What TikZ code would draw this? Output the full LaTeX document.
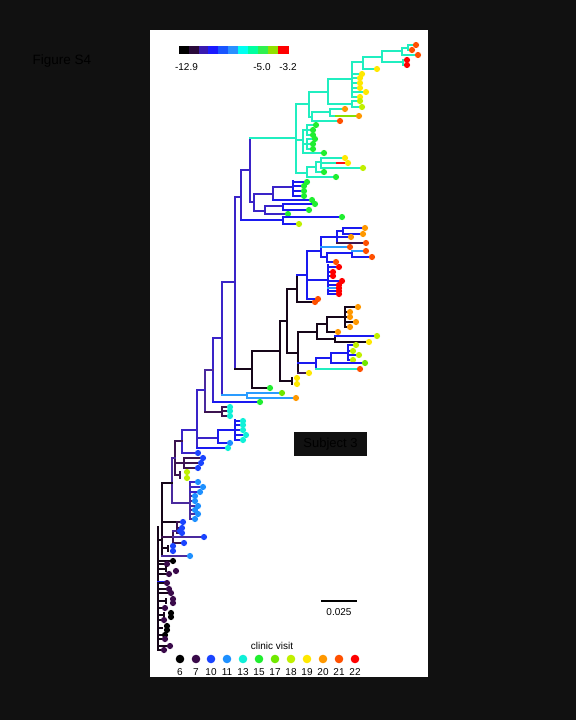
\documentclass[tikz,border=0pt]{standalone}
\usepackage{fontspec}
\setmainfont{Liberation Sans}
\definecolor{bgc}{HTML}{111111}
\definecolor{cK}{HTML}{160619}
\definecolor{cP}{HTML}{3C1450}
\definecolor{cM}{HTML}{4A2A9E}
\definecolor{cI}{HTML}{3A24C8}
\definecolor{cB}{HTML}{1A1AF0}
\definecolor{cL}{HTML}{2A9CFF}
\definecolor{cT}{HTML}{20EEC0}
\definecolor{cY}{HTML}{88E000}
\definecolor{cR}{HTML}{FF1010}
\definecolor{c6}{HTML}{000000}
\definecolor{c7}{HTML}{3A0A4A}
\definecolor{c10}{HTML}{1A44FF}
\definecolor{c11}{HTML}{1E90FF}
\definecolor{c13}{HTML}{10F0D8}
\definecolor{c15}{HTML}{20EE30}
\definecolor{c17}{HTML}{70E800}
\definecolor{c18}{HTML}{C0F000}
\definecolor{c19}{HTML}{FFE800}
\definecolor{c20}{HTML}{FF9800}
\definecolor{c21}{HTML}{FF5000}
\definecolor{c22}{HTML}{FF0000}
\newcommand{\hb}[4]{\draw[br,#1] (#2,#3) -- (#4,#3);}
\newcommand{\vb}[4]{\draw[br,#1] (#2,#3) -- (#2,#4);}
\newcommand{\dt}[3]{\fill[#1] (#2,#3) circle[radius=3.1pt];}
\newcommand{\lf}[5]{\draw[br,#1] (#3,#4) -- (#5-2,#4); \fill[#2] (#5,#4) circle[radius=3.1pt];}
\tikzset{
  br/.style={line width=2.8pt, line cap=rect},
  txt/.style={inner sep=0pt, font=\fontsize{10}{12}\selectfont},
}
\begin{document}
\begin{tikzpicture}[x=1pt,y=-1pt]
\useasboundingbox (0,0) rectangle (576,720);
\fill[bgc] (0,0) rectangle (576,720);
\fill[white] (150,30) rectangle (428,677);
\node[inner sep=0pt, text=black, font=\fontsize{13.5}{15}\selectfont] (fig) at (62,61) {Figure S4};
% colour bar
\foreach \a/\b/\c in {179/189/000000,189/199/2A0A3A,199/208/3A1AB0,208/218/1A1AFF,218/228/1A55FF,228/238/2A90FF,238/248/00FFF0,248/258/00FFA0,258/268/30F050,268/278/90E000,278/289/FF0000}{
  \definecolor{tmp}{HTML}{\c}
  \fill[tmp] (\a,46) rectangle (\b,54);
}
\node[txt] (lo) at (186.5,67) {-12.9};
\node[txt] (mid) at (262,67) {-5.0};
\node[txt] (hi) at (288,67) {-3.2};
% ================= teal clade
\vb{cI}{250}{138}{202}
\hb{cI}{241}{170}{250}
\hb{cT}{250}{138}{296}
\vb{cT}{296}{104}{173}
\hb{cT}{296}{104}{309}
\vb{cT}{309}{92}{117}
\hb{cT}{309}{92}{328}
\vb{cT}{328}{79}{104}
\hb{cT}{328}{79}{352}
\vb{cT}{352}{62}{97}
\hb{cT}{352}{62}{363}
\vb{cT}{363}{57}{69}
\hb{cT}{363}{57}{382}
\vb{cT}{382}{51}{62}
\hb{cT}{382}{51}{402}
\vb{cT}{402}{48}{55}
\hb{cT}{402}{48}{408}
\vb{cT}{408}{45}{50}
\lf{cT}{c21}{408}{45}{416}
\lf{cT}{c21}{408}{50}{412}
\lf{cT}{c21}{402}{55}{418}
\hb{cT}{382}{62}{403}
\vb{cT}{403}{60}{65}
\dt{c22}{407}{60}
\dt{c22}{407}{65}
\lf{cT}{c19}{363}{69}{377}
\lf{cT}{c19}{352}{74}{362}
\lf{cT}{c19}{352}{78}{360}
\lf{cT}{c19}{352}{83}{360}
\lf{cT}{c19}{352}{88}{360}
\lf{cT}{c19}{352}{92}{366}
\lf{cT}{c19}{352}{97}{360}
\hb{cT}{328}{104}{352}
\vb{cT}{352}{101}{107}
\lf{cT}{c18}{352}{101}{360}
\lf{cT}{c18}{352}{107}{362}
\hb{cT}{309}{117}{312}
\vb{cT}{312}{112}{121}
\hb{cT}{312}{112}{330}
\vb{cT}{330}{109}{116}
\lf{cT}{c20}{330}{109}{345}
\hb{cT}{330}{116}{336}
\lf{cY}{c20}{336}{116}{359}
\lf{cT}{c21}{312}{121}{340}
\hb{cT}{296}{140}{303}
\vb{cT}{303}{130}{153}
\hb{cT}{303}{130}{307}
\vb{cT}{307}{125}{135}
\lf{cT}{c15}{307}{125}{316}
\lf{cT}{c15}{307}{130}{313}
\lf{cT}{c15}{307}{135}{313}
\hb{cT}{303}{144}{307}
\vb{cT}{307}{139}{149}
\lf{cT}{c15}{307}{139}{315}
\lf{cT}{c15}{307}{144}{313}
\lf{cT}{c15}{307}{149}{313}
\lf{cT}{c15}{303}{153}{324}
\hb{cT}{296}{173}{307}
\vb{cT}{307}{167}{177}
\lf{cT}{c15}{307}{177}{336}
\hb{cT}{307}{167}{316}
\vb{cT}{316}{162}{172}
\lf{cT}{c15}{316}{172}{324}
\hb{cT}{316}{162}{321}
\vb{cT}{321}{158}{168}
\lf{cT}{c19}{321}{158}{345}
\hb{cT}{321}{163}{337}
\lf{cR}{c19}{337}{163}{348}
\lf{cT}{c18}{321}{168}{363}
% ================= indigo clade
\hb{cI}{250}{202}{254}
\vb{cI}{254}{194}{211}
\hb{cI}{254}{194}{273}
\vb{cI}{273}{187}{200}
\hb{cI}{273}{187}{293}
\vb{cB}{293}{181}{196}
\lf{cB}{c15}{293}{182}{307}
\lf{cB}{c15}{293}{186}{304}
\lf{cB}{c15}{293}{191}{304}
\lf{cB}{c15}{293}{196}{304}
\lf{cB}{c15}{273}{200}{312}
\hb{cI}{254}{211}{265}
\vb{cI}{265}{206}{214}
\hb{cI}{265}{206}{283}
\vb{cB}{283}{204}{210}
\lf{cB}{c15}{283}{204}{315}
\lf{cB}{c15}{283}{210}{309}
\lf{cI}{c15}{265}{214}{288}
\hb{cI}{235}{197}{241}
\vb{cI}{241}{170}{220}
\hb{cB}{241}{220}{283}
\vb{cB}{283}{217}{224}
\lf{cB}{c15}{283}{217}{342}
\lf{cB}{c18}{283}{224}{299}
\vb{cI}{235}{197}{369}
\hb{cI}{222}{282}{235}
% ================= black clade
\hb{cK}{235}{369}{252}
\vb{cK}{252}{351}{388}
\lf{cK}{c15}{252}{388}{270}
\hb{cK}{252}{351}{280}
\vb{cK}{280}{321}{381}
\hb{cK}{280}{381}{292}
\vb{cK}{292}{378}{384}
\dt{c19}{297}{378}
\dt{c19}{297}{384}
\hb{cK}{280}{321}{287}
\vb{cK}{287}{289}{353}
\hb{cK}{287}{289}{297}
\vb{cK}{297}{275}{302}
\lf{cK}{c21}{297}{302}{315}
\hb{cB}{297}{275}{307}
\vb{cB}{307}{251}{299}
\lf{cB}{c21}{307}{299}{318}
\hb{cB}{307}{280}{328}
\vb{cB}{328}{265}{294}
\lf{cB}{c22}{328}{267}{339}
\lf{cB}{c22}{328}{272}{333}
\lf{cB}{c22}{328}{276}{333}
\lf{cB}{c22}{328}{281}{342}
\lf{cB}{c22}{328}{285}{339}
\lf{cL}{c22}{328}{288}{339}
\lf{cB}{c22}{328}{291}{339}
\lf{cB}{c22}{328}{294}{339}
\hb{cB}{307}{251}{321}
\vb{cB}{321}{237}{257}
\hb{cB}{321}{237}{337}
\vb{cB}{337}{231}{243}
\hb{cB}{337}{231}{343}
\vb{cB}{343}{228}{234}
\lf{cB}{c20}{343}{228}{365}
\lf{cB}{c20}{343}{234}{363}
\lf{cB}{c20}{337}{237}{351}
\lf{cP}{c21}{337}{243}{366}
\lf{cL}{c21}{321}{247}{350}
\hb{cB}{321}{257}{327}
\vb{cB}{327}{253}{262}
\hb{cB}{327}{253}{352}
\vb{cB}{352}{251}{257}
\lf{cL}{c21}{352}{251}{366}
\lf{cB}{c21}{352}{257}{372}
\lf{cB}{c21}{327}{262}{336}
\hb{cK}{287}{353}{298}
\vb{cK}{298}{332}{373}
\hb{cK}{298}{332}{317}
\vb{cK}{317}{324}{339}
\hb{cK}{317}{324}{327}
\vb{cK}{327}{317}{332}
\hb{cK}{327}{317}{345}
\vb{cK}{345}{307}{327}
\lf{cK}{c20}{345}{307}{358}
\lf{cK}{c20}{345}{312}{350}
\lf{cK}{c20}{345}{317}{350}
\lf{cK}{c20}{345}{322}{356}
\lf{cK}{c20}{345}{327}{350}
\lf{cK}{c20}{327}{332}{338}
\hb{cK}{317}{339}{335}
\vb{cK}{335}{336}{342}
\lf{cB}{c18}{335}{336}{377}
\lf{cK}{c19}{335}{342}{369}
\hb{cB}{298}{363}{316}
\vb{cB}{316}{358}{369}
\hb{cB}{316}{358}{331}
\vb{cB}{331}{353}{363}
\hb{cB}{331}{353}{348}
\vb{cB}{348}{345}{360}
\lf{cB}{c18}{348}{345}{356}
\lf{cB}{c18}{348}{351}{353}
\lf{cB}{c18}{348}{355}{359}
\lf{cB}{c18}{348}{360}{353}
\lf{cB}{c17}{331}{363}{365}
\lf{cT}{c21}{316}{369}{360}
\lf{cP}{c19}{298}{373}{309}
% ================= light blue clade and spine
\vb{cI}{222}{282}{395}
\hb{cL}{222}{395}{247}
\vb{cL}{247}{393}{398}
\lf{cL}{c17}{247}{393}{282}
\lf{cL}{c20}{247}{398}{296}
\hb{cI}{213}{338}{222}
\vb{cI}{213}{338}{402}
\lf{cB}{c15}{213}{402}{260}
\hb{cM}{205}{370}{213}
\vb{cM}{205}{370}{412}
\hb{cP}{205}{412}{222}
\vb{cP}{222}{407}{416}
\lf{cP}{c13}{222}{407}{230}
\lf{cP}{c13}{222}{411}{230}
\lf{cP}{c13}{222}{416}{230}
\hb{cI}{197}{390}{205}
\vb{cI}{197}{390}{448}
\hb{cI}{197}{438}{218}
\vb{cB}{218}{430}{443}
\hb{cB}{218}{430}{235}
\vb{cB}{235}{420}{440}
\lf{cB}{c13}{235}{421}{243}
\lf{cB}{c13}{235}{425}{243}
\lf{cB}{c13}{235}{430}{243}
\lf{cB}{c13}{235}{435}{246}
\lf{cB}{c13}{235}{440}{243}
\lf{cB}{c11}{218}{443}{230}
\lf{cB}{c13}{197}{448}{228}
\hb{cI}{182}{430}{197}
\vb{cI}{182}{430}{453}
\lf{cI}{c10}{182}{453}{198}
\hb{cP}{175}{441}{182}
\vb{cP}{175}{441}{475}
\hb{cP}{175}{463}{184}
\vb{cP}{184}{458}{468}
\lf{cP}{c10}{184}{458}{203}
\lf{cP}{c10}{184}{463}{201}
\lf{cP}{c10}{184}{468}{198}
\hb{cP}{175}{475}{180}
\vb{cP}{180}{472}{478}
\dt{c18}{187}{472}
\dt{c18}{187}{478}
\hb{cM}{172}{458}{175}
\vb{cM}{172}{458}{503}
\hb{cM}{172}{503}{190}
\vb{cM}{190}{482}{519}
\lf{cI}{c11}{190}{482}{198}
\lf{cI}{c11}{190}{487}{203}
\lf{cI}{c11}{190}{492}{200}
\lf{cM}{c11}{190}{496}{195}
\lf{cM}{c11}{190}{501}{195}
\lf{cM}{c11}{190}{506}{198}
\lf{cM}{c11}{190}{510}{195}
\lf{cM}{c11}{190}{514}{198}
\lf{cM}{c11}{190}{519}{195}
% ================= root region
\hb{cK}{162}{483}{172}
\vb{cK}{162}{483}{555}
\hb{cK}{158}{540}{162}
\vb{cK}{158}{527}{650}
\hb{cK}{162}{522}{177}
\vb{cP}{177}{522}{533}
\lf{cP}{c10}{177}{522}{183}
\lf{cP}{c10}{177}{528}{182}
\lf{cP}{c10}{177}{533}{182}
\hb{cP}{162}{537}{173}
\vb{cP}{173}{531}{543}
\lf{cM}{c10}{173}{531}{180}
\lf{cM}{c10}{173}{537}{204}
\lf{cP}{c10}{173}{543}{184}
\hb{cK}{162}{548}{168}
\vb{cK}{168}{546}{551}
\dt{c10}{173}{546}
\dt{c10}{173}{551}
\lf{cM}{c11}{162}{556}{190}
\lf{cK}{c6}{158}{561}{173}
\lf{cK}{c7}{158}{564}{167}
\hb{cK}{158}{569}{166}
\vb{cK}{166}{567}{571}
\dt{c7}{176}{571}
\lf{cK}{c7}{158}{574}{169}
\hb{cB}{158}{582}{166}
\lf{cK}{c7}{158}{583}{167}
\lf{cK}{c7}{158}{589}{169}
\lf{cK}{c7}{158}{593}{171}
\hb{cK}{158}{601}{166}
\vb{cK}{166}{599}{603}
\dt{c7}{173}{599}
\dt{c7}{173}{603}
\lf{cK}{c7}{158}{608}{165}
\hb{cK}{158}{615}{164}
\vb{cK}{164}{613}{617}
\dt{c6}{171}{613}
\dt{c6}{171}{617}
\lf{cK}{c7}{158}{620}{164}
\hb{cK}{158}{628}{162}
\dt{c6}{167}{626}
\dt{c6}{167}{630}
\lf{cK}{c6}{158}{635}{165}
\lf{cK}{c7}{158}{639}{165}
\lf{cK}{c7}{158}{646}{170}
\lf{cK}{c7}{158}{650}{164}
% ================= annotations
\node[fill=bgc, minimum width=73pt, minimum height=24pt, inner sep=0pt, text=black, font=\fontsize{13}{15}\selectfont] (subj) at (330.5,444) {Subject 3};
\coordinate (sbl) at (321,601);
\coordinate (sbr) at (357,601);
\draw[line width=1.3pt] (sbl) -- (sbr);
\node[txt] (sbt) at (339,612) {0.025};
\node[txt] (cv) at (272,646) {clinic visit};
\foreach \cc/\xx/\lab in {c6/180/6,c7/196/7,c10/211/10,c11/227/11,c13/243/13,c15/259/15,c17/275/17,c18/291/18,c19/307/19,c20/323/20,c21/339/21,c22/355/22}{
  \fill[\cc] (\xx,659) circle[radius=4.3pt];
  \node[txt] (lab\lab) at (\xx,672) {\lab};
}
\end{tikzpicture}
\end{document}
